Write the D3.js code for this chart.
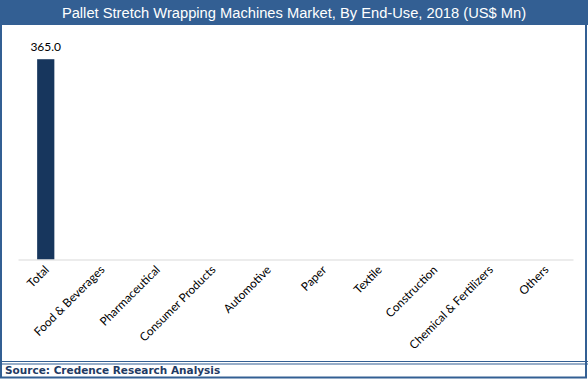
<!DOCTYPE html>
<html><head><meta charset="utf-8">
<script src="https://cdn.jsdelivr.net/npm/d3@7"></script>
<style>html,body{margin:0;padding:0;background:#fff}svg{display:block}</style>
</head><body>
<script>
const categories = ["Total","Food & Beverages","Pharmaceutical","Consumer Products","Automotive","Paper","Textile","Construction","Chemical & Fertilizers","Others"];
const values = [365.0, 0, 0, 0, 0, 0, 0, 0, 0, 0];
const labels = ["365.0", "", "", "", "", "", "", "", "", ""];
const title = "Pallet Stretch Wrapping Machines Market, By End-Use, 2018 (US$ Mn)";
const source = "Source: Credence Research Analysis";

const W = 588, H = 379;
const svg = d3.select("body").append("svg").attr("width", W).attr("height", H);
const blue = "#335f93";

svg.append("rect").attr("x",0).attr("y",0).attr("width",W).attr("height",H).attr("fill","#fff");
// title bar
svg.append("rect").attr("x",0).attr("y",0).attr("width",W).attr("height",25).attr("fill",blue);
svg.append("text").attr("x",W/2).attr("y",18).attr("text-anchor","middle")
  .attr("font-family","Liberation Sans, Arial, sans-serif").attr("font-size",14.7)
  .attr("fill","#fff").text(title);
// border
svg.append("rect").attr("x",1).attr("y",1).attr("width",W-3).attr("height",H-2.5)
  .attr("fill","none").attr("stroke",blue).attr("stroke-width",2);
// footer double line
svg.append("line").attr("x1",0).attr("x2",W).attr("y1",361.5).attr("y2",361.5).attr("stroke",blue).attr("stroke-width",1.2);
svg.append("line").attr("x1",0).attr("x2",W).attr("y1",364).attr("y2",364).attr("stroke",blue).attr("stroke-width",1.2);
svg.append("text").attr("x",5).attr("y",374)
  .attr("font-family","DejaVu Sans, Verdana, sans-serif").attr("font-weight","bold").attr("font-size",10.5)
  .attr("fill","#1f3a63").text(source);

const x = d3.scaleBand().domain(categories).range([18, 573]).paddingInner(0.69).paddingOuter(0.345);
const y = d3.scaleLinear().domain([0, 400]).range([259.5, 40]);

const g = svg.append("g");
g.selectAll("rect.bar").data(values).join("rect").attr("class","bar")
  .attr("x",(d,i)=>x(categories[i])).attr("width",x.bandwidth())
  .attr("y",d=>y(d)).attr("height",d=>y(0)-y(d)).attr("fill","#17365d");

g.selectAll("text.lbl").data(values).join("text").attr("class","lbl")
  .attr("x",(d,i)=>x(categories[i])+x.bandwidth()/2).attr("y",d=>y(d)-8)
  .attr("text-anchor","middle").attr("font-family","Lato, Open Sans, sans-serif")
  .attr("font-size",12).attr("fill","#000").text((d,i)=>labels[i]);

const axis = d3.axisBottom(x).tickSize(0).tickPadding(0);
const ax = svg.append("g").attr("transform",`translate(0,${y(0)})`).call(axis);
ax.select(".domain").attr("stroke","#d9d9d9").attr("stroke-width",1.2);
ax.selectAll(".tick text")
  .attr("font-family","Lato, Open Sans, sans-serif").attr("font-size",11.8).attr("fill","#000")
  .attr("text-anchor","end").attr("dy",0).attr("y",0)
  .attr("transform","translate(4,11) rotate(-45)");
</script>
</body></html>
